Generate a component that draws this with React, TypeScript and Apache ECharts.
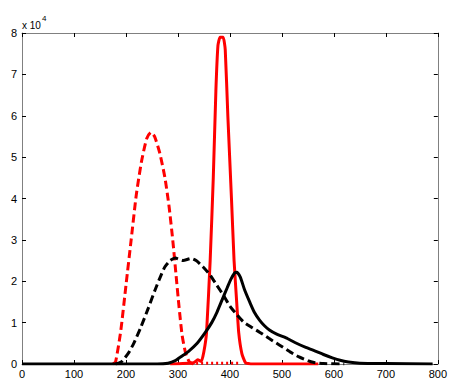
import React, { useEffect, useRef } from "react";
import * as echarts from "echarts";

// values in units of 10^4
const redDashed: [number, number][] = [
  [175, 0], [180, 0.05], [190, 0.8], [200, 1.9], [210, 3.0], [220, 4.1], [230, 4.9],
  [240, 5.45], [248, 5.6], [255, 5.5], [265, 5.1], [275, 4.5], [283, 3.8], [290, 3.0],
  [296, 2.2], [302, 1.4], [308, 0.7], [315, 0.25], [322, 0.05], [330, 0],
];
const redSolid: [number, number][] = [
  [285, 0], [330, 0.03], [338, 0.1], [345, 0.06], [350, 0.3], [355, 0.75], [362, 2.5],
  [368, 4.5], [373, 6.6], [377, 7.7], [381, 7.9], [387, 7.9], [391, 7.6], [396, 6.0],
  [403, 4.0], [408, 2.5], [413, 1.5], [417, 0.75], [423, 0.25], [430, 0.03], [440, 0],
  [570, 0],
];
const redDotted: [number, number][] = [
  [335, 0.02], [420, 0.02],
];
const blackDashed: [number, number][] = [
  [180, 0], [191, 0.05], [205, 0.27], [215, 0.5], [229, 0.9], [243, 1.35], [256, 1.79],
  [266, 2.1], [275, 2.35], [285, 2.5], [295, 2.56], [310, 2.5], [325, 2.55], [335, 2.5],
  [348, 2.35], [362, 2.15], [375, 1.9], [388, 1.65], [400, 1.4], [413, 1.2], [426, 1.02],
  [440, 0.9], [457, 0.77], [475, 0.62], [495, 0.46], [515, 0.3], [533, 0.17], [550, 0.08],
  [560, 0.04], [580, 0.01], [620, 0],
];
const blackSolid: [number, number][] = [
  [0, 0], [200, 0], [260, 0], [281, 0.02], [295, 0.08], [305, 0.17], [320, 0.3],
  [337, 0.5], [352, 0.75], [365, 1.0], [375, 1.25], [385, 1.55], [395, 1.85], [402, 2.05],
  [409, 2.2], [413, 2.22], [420, 2.1], [428, 1.8], [438, 1.5], [447, 1.25], [457, 1.06],
  [466, 0.93], [476, 0.82], [490, 0.72], [508, 0.63], [525, 0.52], [546, 0.4], [561, 0.33],
  [580, 0.23], [597, 0.15], [612, 0.09], [628, 0.05], [650, 0.02], [700, 0.01], [790, 0],
];
const xTicks = { min: 0, max: 800, interval: 100 };
const yTicks = { min: 0, max: 8, interval: 1 };

const axisGray = "#808080";
const font = "Liberation Sans, Arial, sans-serif";

export default function App() {
  const ref = useRef<HTMLDivElement>(null);
  useEffect(() => {
    document.body.style.margin = "0";
    const chart = echarts.init(ref.current!, null, { renderer: "svg" });
    const baseAxis = {
      axisLine: { show: true, onZero: false, lineStyle: { color: axisGray, width: 1 } },
      axisTick: { show: true, inside: true, length: 4, lineStyle: { color: "#000" } },
      splitLine: { show: false },
    };
    const line = (data: [number, number][], color: string, type: any, smooth = 0.2) => ({
      type: "line",
      data,
      symbol: "none",
      smooth,
      lineStyle: { color, width: 3, type },
      xAxisIndex: 0,
      yAxisIndex: 0,
    });
    chart.setOption({
      animation: false,
      backgroundColor: "#fff",
      grid: { left: 22, right: 6, top: 33, bottom: 16 },
      xAxis: [
        {
          type: "value", ...xTicks, position: "bottom", ...baseAxis,
          axisLabel: { color: "#000", fontSize: 11, fontFamily: font, margin: 4 },
        },
        {
          type: "value", ...xTicks, position: "top", ...baseAxis,
          axisLabel: { show: false },
        },
      ],
      yAxis: [
        {
          type: "value", ...yTicks, position: "left", ...baseAxis,
          axisLabel: { color: "#000", fontSize: 11, fontFamily: font, margin: 5 },
        },
        {
          type: "value", ...yTicks, position: "right", ...baseAxis,
          axisLabel: { show: false },
        },
      ],
      graphic: [
        {
          type: "text",
          left: 22,
          top: 14,
          style: {
            text: "{a|x 10}{b|4}",
            rich: {
              a: { fontSize: 10, fontFamily: font, fill: "#000", verticalAlign: "bottom" },
              b: { fontSize: 8, fontFamily: font, fill: "#000", verticalAlign: "top", padding: [0, 0, 8, 1] },
            },
          },
        },
      ],
      series: [
        line(redDashed, "#ff0000", [8, 4]),
        line(redDotted, "#ff0000", [2, 3], 0),
        line(redSolid, "#ff0000", "solid", 0.15),
        line(blackDashed, "#000000", [8, 4]),
        line(blackSolid, "#000000", "solid"),
      ],
    });
    return () => chart.dispose();
  }, []);
  return <div ref={ref} style={{ width: 450, height: 380 }} />;
}
